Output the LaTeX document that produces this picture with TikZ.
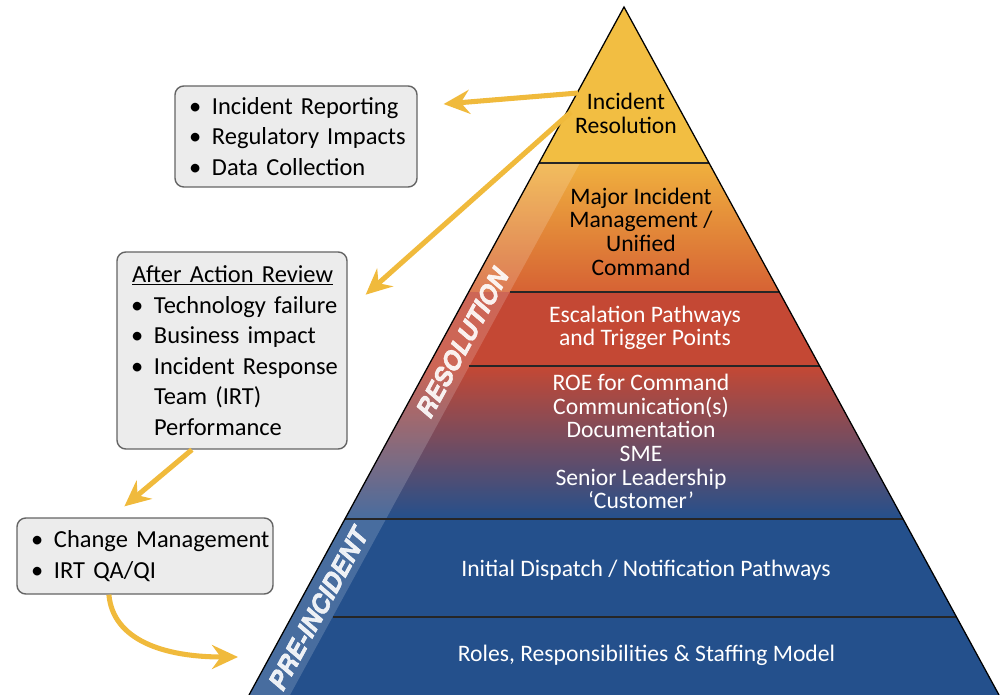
\documentclass[tikz,border=0pt]{standalone}
\usepackage{fontspec}
\setmainfont{Carlito}
\newfontfamily\bandfont[FakeBold=1.6]{texgyreheros-bolditalic.otf}
\usetikzlibrary{arrows.meta}
\newlength{\px}
\setlength{\px}{0.025cm}
\definecolor{pyrYellow}{RGB}{242,190,66}
\definecolor{pyrOrange}{RGB}{240,176,62}
\definecolor{pyrRust}{RGB}{214,98,52}
\definecolor{pyrRed}{RGB}{196,72,52}
\definecolor{pyrPlum}{RGB}{122,76,102}
\definecolor{pyrBlue}{RGB}{36,80,140}
\definecolor{flowGold}{RGB}{240,186,60}
\definecolor{boxFill}{RGB}{236,236,236}
\definecolor{boxEdge}{RGB}{100,100,100}
% one bullet line, and a continuation line
\newcommand{\itm}[1]{\mbox{\hspace*{10\px}\makebox[23\px][l]{\textbullet}#1}}
\newcommand{\cnt}[1]{\mbox{\hspace*{33\px}#1}}
\tikzset{
  flow/.style    = {-{Stealth[length=6.5mm,width=6mm,inset=2.2mm]},flowGold,line width=3.6pt},
  notebox/.style = {draw=boxEdge,line width=1pt,fill=boxFill,rounded corners=2.2mm,
                    inner xsep=4\px,inner ysep=0pt,align=left,
                    font=\fontsize{17.4}{21.7}\selectfont},
  tier/.style    = {font=\fontsize{16.8}{16.8}\selectfont,align=center,inner sep=0pt},
  band/.style    = {font=\bandfont\fontsize{18}{18}\selectfont,
                    white,opacity=.9,rotate=61.4,inner sep=0pt},
  divider/.style = {black!85,line width=0.9pt}
}
\begin{document}
\begin{tikzpicture}[x=\px,y=-\px]
  \useasboundingbox (0,0) rectangle (1007,695);
  \coordinate (apex)  at (624,7);
  \coordinate (baseL) at (249,695);
  \coordinate (baseR) at (999,695);

  % tiers of the pyramid
  \begin{scope}
    \clip (apex) -- (baseR) -- (baseL) -- cycle;
    \fill[pyrYellow] (200,0) rectangle (1007,163);
    \shade[top color=pyrOrange,bottom color=pyrRust] (200,163) rectangle (1007,292);
    \fill[pyrRed] (200,292) rectangle (1007,366);
    \shade[top color=pyrRed,middle color=pyrPlum,bottom color=pyrBlue] (200,366) rectangle (1007,519);
    \fill[pyrBlue] (200,519) rectangle (1007,695);
    % lighter strips along the left side
    \fill[white,opacity=.17] (500,163) -- (300,519) -- (386,519) -- (580,163) -- cycle;
    \fill[white,opacity=.17] (300,519) -- (200,695) -- (290,695) -- (386,519) -- cycle;
    \draw[divider] (500,163) -- (1007,163);
    \draw[divider] (300,519) -- (1007,519);
    \foreach \y/\x in {292/509.7,366/469.3,617/332.5}
      \draw[divider] (\x,\y) -- (1007,\y);
  \end{scope}
  \draw[black,line width=0.9pt] (baseL) -- (apex) -- (baseR);

  \node[tier] (tResolve) at (626,113.5) {Incident\\Resolution};
  \node[tier] (tMajor) at (641,231.5) {Major Incident\\Management /\\Unified\\Command};
  \node[tier,white] (tEscal) at (645,328) {Escalation Pathways\\and Trigger Points};
  \node[tier,white] (tROE) at (641,441.5)
    {ROE for Command\\Communication(s)\\Documentation\\SME\\Senior Leadership\\`Customer'};
  \node[tier,white] (tDispatch) at (646,570) {Initial Dispatch / Notification Pathways};
  \node[tier,white] (tRoles) at (646.5,655) {Roles, Responsibilities \& Staffing Model};

  \node[band] (lblRes) at (462,343) {RESOLUTION};
  \node[band] (lblPre) at (318,609) {PRE-INCIDENT};

  % side notes
  \node[notebox,text width=234\px,minimum height=101\px] (notesTop) at (296,136.5)
    {\itm{Incident Reporting}\\\itm{Regulatory Impacts}\\\itm{Data Collection}};
  \node[notebox,text width=222\px,minimum height=197\px] (notesReview) at (232,350.5)
    {\hspace*{11\px}\underline{After Action Review}\\\itm{Technology failure}\\
     \itm{Business impact}\\\itm{Incident Response}\\\cnt{Team (IRT)}\\\cnt{Performance}};
  \node[notebox,text width=248\px,minimum height=76\px] (notesChange) at (145,556)
    {\itm{Change Management}\\\itm{IRT QA/QI}};

  % arrows
  \coordinate (resOutA) at (578,93);
  \coordinate (resOutB) at (571,112);
  \coordinate (preIn) at (238,657);
  \draw[flow,shorten >=26\px] (resOutA) -- (notesTop.14);
  \draw[flow,shorten >=24\px] (resOutB) -- (notesReview.19);
  \draw[flow,shorten >=17\px] (notesReview.248) -- (notesChange.131);
  \draw[flow] (notesChange.227) .. controls +(4,45) and +(-75,0) .. (preIn);
\end{tikzpicture}
\end{document}
